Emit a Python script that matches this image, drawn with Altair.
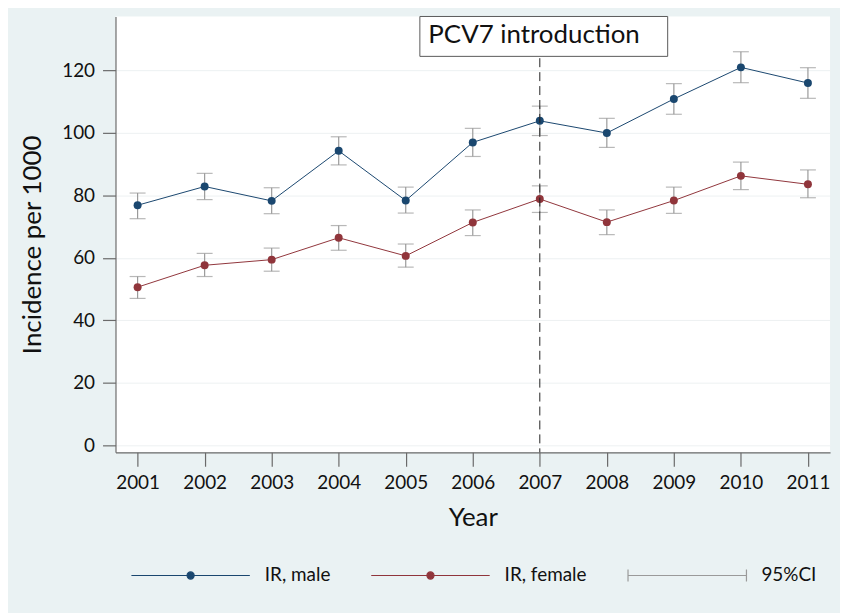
import altair as alt
import pandas as pd

years = [2001, 2002, 2003, 2004, 2005, 2006, 2007, 2008, 2009, 2010, 2011]
male = [76.8, 82.8, 78.2, 94.2, 78.3, 96.9, 103.8, 99.9, 110.8, 120.9, 115.9]
male_lo = [72.5, 78.6, 74.1, 89.7, 74.3, 92.4, 99.1, 95.3, 105.9, 116.0, 111.0]
male_hi = [80.7, 87.0, 82.4, 98.7, 82.6, 101.4, 108.5, 104.6, 115.7, 125.9, 120.8]
female = [50.6, 57.6, 59.4, 66.4, 60.6, 71.3, 78.8, 71.4, 78.3, 86.2, 83.5]
female_lo = [47.0, 54.0, 55.7, 62.4, 57.0, 67.1, 74.5, 67.4, 74.2, 81.8, 79.2]
female_hi = [54.0, 61.4, 63.1, 70.3, 64.4, 75.3, 83.0, 75.3, 82.6, 90.6, 88.1]

series_names = ["IR, male", "IR, female"]
legend_names = ["IR, male", "IR, female", "95%CI"]
colors = ["#1a476f", "#90353b", "#9a9a9a"]
annot_year = [2007]
annot_text = ["PCV7 introduction"]
y_ticks = [0, 20, 40, 60, 80, 100, 120]

FONT = "Lato"

rows = []
for i, yr in enumerate(years):
    rows.append({"year": yr, "series": series_names[0], "ir": male[i], "lo": male_lo[i], "hi": male_hi[i]})
    rows.append({"year": yr, "series": series_names[1], "ir": female[i], "lo": female_lo[i], "hi": female_hi[i]})
df = pd.DataFrame(rows)

xscale = alt.Scale(domain=[2000.67, 2011.33], nice=False, zero=False)
yscale = alt.Scale(domain=[-2.23, 137.2], nice=False, zero=False)
cscale = alt.Scale(domain=series_names, range=colors[:2])

x_axis = alt.Axis(values=years, format="d", title="Year", grid=False,
                  tickSize=14, labelPadding=7, titlePadding=13,
                  domainColor="#6a6a6a", tickColor="#6a6a6a")
y_axis = alt.Axis(values=y_ticks, title="Incidence per 1000", grid=True,
                  gridColor="#edf1f2", tickSize=13, labelPadding=8, titlePadding=16,
                  domainColor="#6a6a6a", tickColor="#6a6a6a", titleY=229)

base = alt.Chart(df)

ci_rule = base.mark_rule(color=colors[2], strokeWidth=1.2).encode(
    x=alt.X("year:Q", scale=xscale, axis=x_axis),
    y=alt.Y("lo:Q", scale=yscale, axis=y_axis),
    y2="hi:Q",
)
ci_lo = base.mark_tick(color=colors[2], size=16, thickness=1.2, orient="horizontal").encode(
    x=alt.X("year:Q", scale=xscale), y=alt.Y("lo:Q", scale=yscale))
ci_hi = base.mark_tick(color=colors[2], size=16, thickness=1.2, orient="horizontal").encode(
    x=alt.X("year:Q", scale=xscale), y=alt.Y("hi:Q", scale=yscale))

lines = base.mark_line(strokeWidth=1).encode(
    x=alt.X("year:Q", scale=xscale),
    y=alt.Y("ir:Q", scale=yscale),
    color=alt.Color("series:N", scale=cscale, legend=None),
)
dots = base.mark_point(filled=True, size=64, opacity=1).encode(
    x=alt.X("year:Q", scale=xscale),
    y=alt.Y("ir:Q", scale=yscale),
    color=alt.Color("series:N", scale=cscale, legend=None),
)

adf = pd.DataFrame({"year": annot_year, "label": annot_text})
vline = alt.Chart(adf).mark_rule(color="#222222", strokeWidth=1, strokeDash=[9, 5]).encode(
    x=alt.X("year:Q", scale=xscale))
box = alt.Chart(adf).mark_point(
    shape="M-1,-0.161L1,-0.161L1,0.161L-1,0.161Z", size=249 * 249,
    filled=True, fill="white", stroke="#5a5a5a", strokeWidth=1, opacity=1, xOffset=4,
).encode(x=alt.X("year:Q", scale=xscale), y=alt.datum(130.8, scale=yscale))
btext = alt.Chart(adf).mark_text(
    align="left", baseline="middle", dx=-112, dy=-1, fontSize=26, font=FONT, color="#111111"
).encode(x=alt.X("year:Q", scale=xscale), y=alt.datum(130.8, scale=yscale), text="label:N")

sym_paths = [
    "M-1,0L1,0M-0.06,0A0.06,0.06,0,1,1,0.06,0A0.06,0.06,0,1,1,-0.06,0Z",
    "M-1,0L1,0M-0.06,0A0.06,0.06,0,1,1,0.06,0A0.06,0.06,0,1,1,-0.06,0Z",
    "M-1,-0.1L-1,0.1M-1,0L1,0M1,-0.1L1,0.1",
]
leg = alt.Legend(title=None, orient="none", direction="horizontal", columns=3,
                 legendX=15, legendY=501, symbolSize=119 * 119, symbolStrokeWidth=1.2,
                 symbolOpacity=1,
                 labelFontSize=19, labelFont=FONT, labelColor="#111111", labelOffset=14,
                 columnPadding=38, padding=0)
ldf = pd.DataFrame({"series": legend_names})
legend_layer = alt.Chart(ldf).mark_point(filled=True, opacity=1).encode(
    fill=alt.Fill("series:N", scale=alt.Scale(domain=legend_names, range=colors), legend=leg),
    stroke=alt.Stroke("series:N", scale=alt.Scale(domain=legend_names, range=colors), legend=leg),
    shape=alt.Shape("series:N", scale=alt.Scale(domain=legend_names, range=sym_paths), legend=leg),
).transform_filter("false")

chart = alt.layer(ci_rule, ci_lo, ci_hi, lines, dots, vline, box, btext, legend_layer).resolve_scale(
    fill="independent", stroke="independent", shape="independent"
).properties(
    width=718, height=438,
    padding={"left": 108, "top": 7, "right": 10, "bottom": 160},
    autosize=alt.AutoSizeParams(type="none"),
    background="#eaf2f3",
    view=alt.ViewBackground(fill="white", strokeWidth=0),
).configure_axis(
    labelFont=FONT, labelFontSize=19, labelColor="#111111",
    titleFont=FONT, titleFontSize=26, titleFontWeight="normal", titleColor="#111111",
    domainWidth=1.2, tickWidth=1.2,
)

chart.save("out.html", embed_options={"renderer": "svg", "actions": False})
